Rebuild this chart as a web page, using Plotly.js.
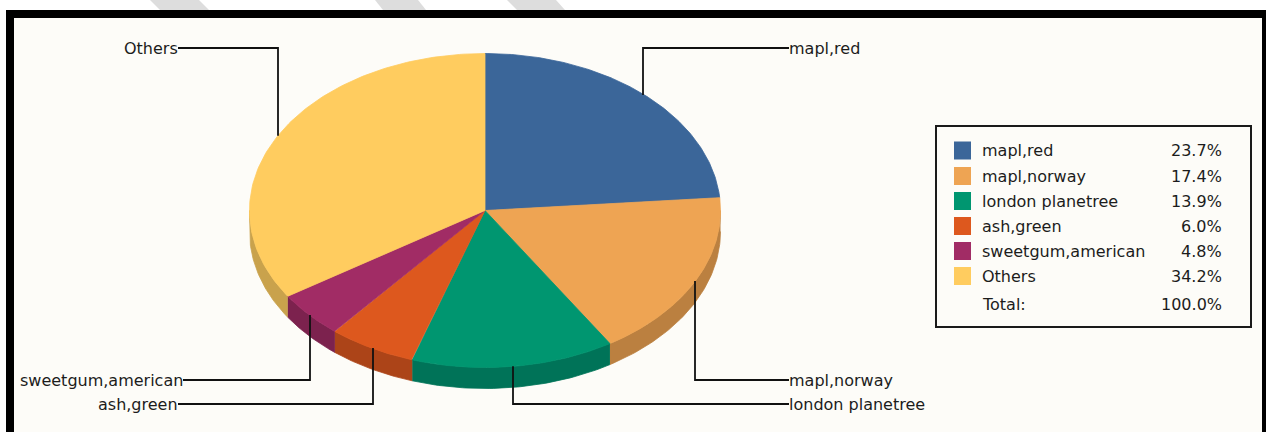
<!DOCTYPE html>
<html>
<head>
<meta charset="utf-8">
<script src="https://cdn.plot.ly/plotly-3.0.1.min.js"></script>
<style>html,body{margin:0;padding:0;background:#fff;overflow:hidden}#chart{width:1266px;height:432px}</style>
</head>
<body>
<div id="chart"></div>
<script>
const names = ['mapl,red','mapl,norway','london planetree','ash,green','sweetgum,american','Others'];
const shares = [23.7,17.4,13.9,6.0,4.8,34.2];
const totalLabel = 'Total:';
const totalShare = 100.0;
const topColors = ['#3B6699','#EEA453','#009670','#DD581E','#A12C65','#FFCC5F'];
const sideColors = ['#2E5078','#BB8040','#007358','#AC4418','#7C224E','#C9A24C'];
const labelYs = [48,380,404,404,380,48];
const labelSide = ['right','right','right','left','left','left'];
const leaderDx = [-2,0,-1,1,1,0];
const labelEdgeRight = 789, labelEdgeLeft = 183;
const othersLabelEdge = 178;

const cx=485, cy=210.5, rx=235.5, ry=157, depth=21;
const font = 'DejaVu Sans, Verdana, sans-serif';
const fsize = 16, txt = '#1c1c1c';

function pt(pct, dy){
  const a = pct/100*2*Math.PI;
  return [cx+rx*Math.sin(a), cy-ry*Math.cos(a)+(dy||0)];
}
const traces=[], shapes=[], annotations=[];
function poly(xy,color){
  traces.push({type:'scatter',mode:'lines',x:xy.map(p=>p[0]),y:xy.map(p=>p[1]),fill:'toself',
    fillcolor:color,line:{color:color,width:0.8},hoverinfo:'skip',showlegend:false});
}
function label(x,y,text,anchor){
  annotations.push({x,y,xref:'x',yref:'y',text,showarrow:false,xanchor:anchor,yanchor:'middle',
    font:{family:font,size:fsize,color:txt},borderpad:0,borderwidth:0});
}
// walls
let cum=0; const starts=shares.map(s=>{const c=cum;cum+=s;return c;});
shares.forEach((s,i)=>{
  const a0=Math.max(starts[i],25), a1=Math.min(starts[i]+s,75);
  if(a1<=a0) return;
  const up=[],dn=[];
  for(let k=0;k<=60;k++){const p=a0+(a1-a0)*k/60; up.push(pt(p,0)); dn.unshift(pt(p,depth));}
  poly(up.concat(dn),sideColors[i]);
});
// tops
shares.forEach((s,i)=>{
  const xy=[[cx,cy]];
  for(let k=0;k<=120;k++) xy.push(pt(starts[i]+s*k/120,0));
  xy.push([cx,cy]);
  poly(xy,topColors[i]);
});
// leaders
shares.forEach((s,i)=>{
  const m=pt(starts[i]+s/2,0);
  const lx=Math.round(m[0]+leaderDx[i]);
  const right=labelSide[i]==='right';
  let edge=right?labelEdgeRight:labelEdgeLeft;
  if(names[i]==='Others'||names[i]==='ash,green') edge=othersLabelEdge;
  traces.push({type:'scatter',mode:'lines',x:[lx,lx,edge],y:[m[1],labelYs[i],labelYs[i]],
    line:{color:'#111',width:1.8},hoverinfo:'skip',showlegend:false});
  label(edge,labelYs[i],names[i],right?'left':'right');
});
// frame
shapes.push(
 {type:'path',path:'M150,0 L199,0 L209,10 L160,10 Z',fillcolor:'#DDDDDD',line:{width:0},layer:'below'},
 {type:'path',path:'M375,0 L418,0 L426,10 L383,10 Z',fillcolor:'#DDDDDD',line:{width:0},layer:'below'},
 {type:'path',path:'M507,0 L556,0 L565,10 L517,10 Z',fillcolor:'#DDDDDD',line:{width:0},layer:'below'},
 {type:'rect',x0:6,x1:1266,y0:10,y1:432,fillcolor:'#000000',line:{width:0},layer:'below'},
 {type:'rect',x0:14,x1:1262,y0:18,y1:432,fillcolor:'#FDFCF8',line:{width:0},layer:'below'},
 {type:'rect',x0:936,x1:1251,y0:126,y1:327,fillcolor:'rgba(0,0,0,0)',line:{color:'#1a1a1a',width:2},layer:'below'}
);
// legend
const rowY=[150.5,176,201,226,251,276,304];
names.forEach((n,i)=>{
  shapes.push({type:'rect',x0:954,x1:971,y0:rowY[i]-9,y1:rowY[i]+9,fillcolor:topColors[i],line:{width:0},layer:'below'});
  label(982,rowY[i],n,'left');
  label(1222,rowY[i],shares[i].toFixed(1)+'%','right');
});
label(982,rowY[6],totalLabel,'left');
label(1222,rowY[6],totalShare.toFixed(1)+'%','right');

Plotly.newPlot('chart',traces,{
  width:1266,height:432,margin:{l:0,r:0,t:0,b:0},paper_bgcolor:'#FFFFFF',plot_bgcolor:'rgba(0,0,0,0)',
  xaxis:{range:[0,1266],visible:false,fixedrange:true},
  yaxis:{range:[432,0],visible:false,fixedrange:true},
  showlegend:false,shapes,annotations,hovermode:false
},{displayModeBar:false,staticPlot:true});
</script>
</body>
</html>
